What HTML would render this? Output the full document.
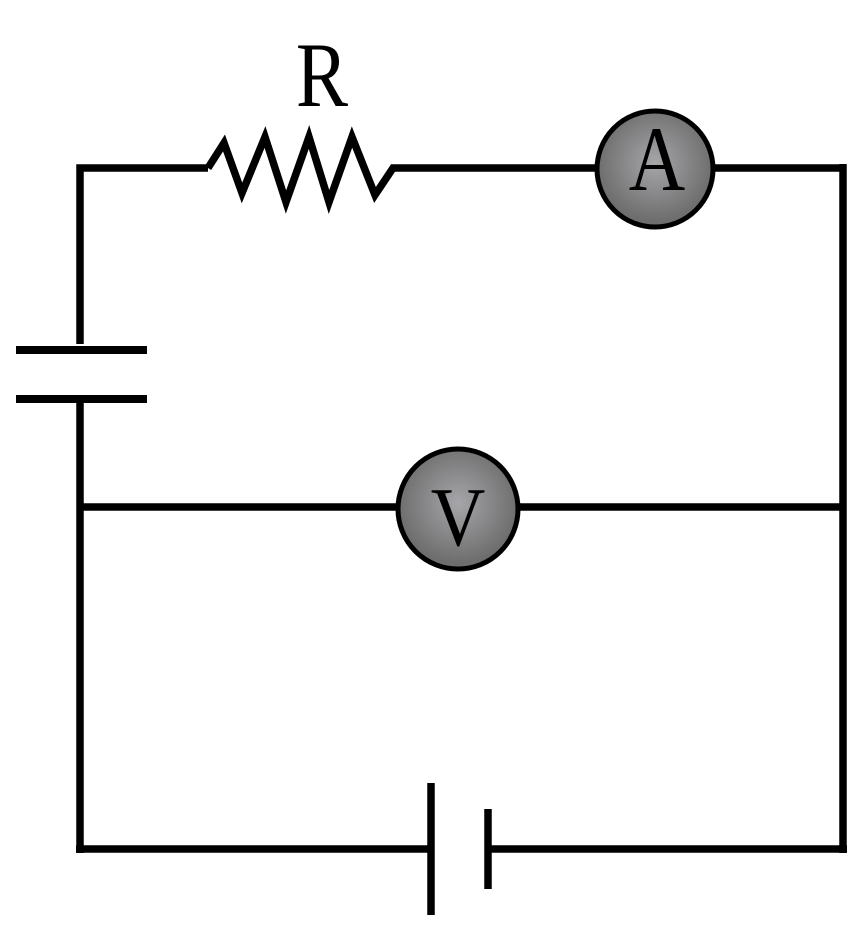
<!DOCTYPE html>
<html><head><style>html,body{margin:0;padding:0;background:#fff;width:864px;height:932px;overflow:hidden}</style></head>
<body>
<svg width="864" height="932" viewBox="0 0 864 932" xmlns="http://www.w3.org/2000/svg">
<defs>
<radialGradient id="g" cx="0.5" cy="0.45" r="0.5">
<stop offset="0" stop-color="#a6a6aa"/>
<stop offset="1" stop-color="#6e6e6e"/>
</radialGradient>
</defs>
<g stroke="#000" stroke-width="7.5" fill="none" stroke-linecap="butt">
<polyline points="80,344 80,168 208,168"/>
<polyline points="208,168 224,143 242,193 265,137 286,202 309,137 329,202 352,137 375,195 393,168 600,168"/>
<line x1="712" y1="168" x2="843" y2="168"/>
<line x1="843" y1="164" x2="843" y2="853"/>
<line x1="16" y1="350" x2="147" y2="350" stroke-width="8"/>
<line x1="16" y1="399" x2="147" y2="399" stroke-width="8"/>
<line x1="80" y1="396" x2="80" y2="853"/>
<line x1="80" y1="507" x2="400" y2="507"/>
<line x1="516" y1="507" x2="843" y2="507"/>
<line x1="76" y1="849" x2="431" y2="849"/>
<line x1="488" y1="849" x2="847" y2="849"/>
<line x1="431" y1="783" x2="431" y2="915"/>
<line x1="488" y1="809" x2="488" y2="889"/>
</g>
<circle cx="655" cy="169" r="58" fill="url(#g)" stroke="#000" stroke-width="5"/>
<circle cx="458" cy="509" r="60" fill="url(#g)" stroke="#000" stroke-width="5"/>
<g style="font-family:'Liberation Serif',serif" fill="#000" text-anchor="middle">
<text transform="translate(322,106) scale(0.85,1)" x="0" y="0" font-size="92">R</text>
<text transform="translate(657,190) scale(0.85,1)" x="0" y="0" font-size="92">A</text>
<text transform="translate(458,545) scale(0.9,1)" x="0" y="0" font-size="84">V</text>
</g>
</svg>
</body></html>
